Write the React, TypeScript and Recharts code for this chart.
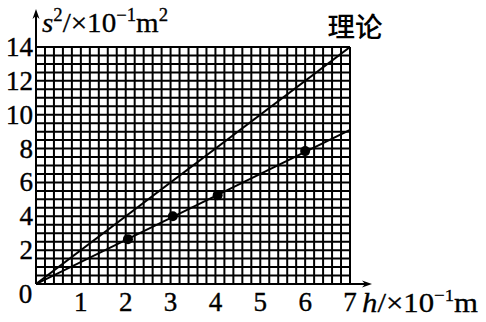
import React from "react";
import { ComposedChart, XAxis, YAxis, CartesianGrid, Line, Scatter, LabelList } from "recharts";

// Axis ranges / labels
const xTickLabels = [1, 2, 3, 4, 5, 6, 7];
const yTickLabels = [2, 4, 6, 8, 10, 12, 14];
// grid: 5 minor divisions per unit on x, 2 per unit on y
const xGrid = Array.from({ length: 36 }, (_, i) => i / 5);
const yGrid = Array.from({ length: 29 }, (_, i) => i / 2);

// Measured points (h, s^2)
const measuredH = [2.05, 3.05, 4.05, 6.0];
const measuredS2 = [2.65, 4.0, 5.25, 7.85];
// Fitted experimental line end points
const fitH = [0, 7];
const fitS2 = [0, 9.1];
// Theoretical line
const theoryH = [0, 7];
const theoryS2 = [0, 14];

const measured = measuredH.map((h, i) => ({ x: h, y: measuredS2[i] }));
const fit = fitH.map((h, i) => ({ x: h, y: fitS2[i] }));
const theory = theoryH.map((h, i) => ({ x: h, y: theoryS2[i] }));

const SERIF = "'Liberation Serif', 'Times New Roman', serif";
const FS = 27;

const XTick = (props: any) => {
  const { x, y, payload } = props;
  const v = payload.value;
  if (v === 0) {
    return (
      <text x={x - 10.5} y={y + 19} textAnchor="middle" fontFamily={SERIF} fontSize={FS} fill="#000" stroke="#000" strokeWidth={0.4}>0</text>
    );
  }
  if (!xTickLabels.includes(v)) return <g />;
  return (
    <text x={x} y={y + 27} textAnchor="middle" fontFamily={SERIF} fontSize={FS} fill="#000" stroke="#000" strokeWidth={0.4}>{v}</text>
  );
};

const YTick = (props: any) => {
  const { x, y, payload } = props;
  const v = payload.value;
  if (!yTickLabels.includes(v)) return <g />;
  return (
    <text x={x - 3} y={y + 9} textAnchor="end" fontFamily={SERIF} fontSize={FS} fill="#000" stroke="#000" strokeWidth={0.4}>{v}</text>
  );
};

const YTitle = (props: any) => {
  const vb = props.viewBox || {};
  const ax = vb.x + vb.width;
  const top = vb.y;
  return (
    <g>
      <line x1={ax} y1={top} x2={ax} y2={16} stroke="#000" strokeWidth={2} />
      <polygon points={`${ax},9 ${ax - 3.5},19 ${ax},16 ${ax + 3.5},19`} fill="#000" />
      <text x={ax + 6} y={32} fontFamily={SERIF} fontSize={28} fill="#000" stroke="#000" strokeWidth={0.3} textLength={126} lengthAdjust="spacingAndGlyphs">
        <tspan fontStyle="italic">s</tspan>
        <tspan dy={-11} fontSize={18}>2</tspan>
        <tspan dy={11}>/×10</tspan>
        <tspan dy={-11} fontSize={18}>−1</tspan>
        <tspan dy={11}>m</tspan>
        <tspan dy={-11} fontSize={18}>2</tspan>
      </text>
    </g>
  );
};

const XTitle = (props: any) => {
  const vb = props.viewBox || {};
  const right = vb.x + vb.width;
  const ay = vb.y;
  return (
    <g>
      <line x1={right} y1={ay} x2={365} y2={ay} stroke="#000" strokeWidth={2} />
      <polygon points={`372,${ay} 362,${ay - 3.5} 365,${ay} 362,${ay + 3.5}`} fill="#000" />
      <text x={362} y={312} fontFamily={SERIF} fontSize={28} fill="#000" stroke="#000" strokeWidth={0.3} textLength={116} lengthAdjust="spacingAndGlyphs">
        <tspan fontStyle="italic">h</tspan>
        <tspan>/×10</tspan>
        <tspan dy={-11} fontSize={17}>−1</tspan>
        <tspan dy={11}>m</tspan>
      </text>
    </g>
  );
};

const TheoryLabel = (props: any) => {
  const { x, y, index } = props;
  if (index !== 1) return null;
  return (
    <text x={x + 5} y={y - 10} textAnchor="middle" fontFamily="'Noto Sans CJK SC', sans-serif" fontSize={27} fontWeight={500} fill="#000" textLength={55} lengthAdjust="spacingAndGlyphs">理论</text>
  );
};

export default function App() {
  return (
    <div style={{ position: "absolute", left: 0, top: 0, background: "#fff" }}>
      <ComposedChart width={486} height={322} margin={{ top: 47, right: 136, bottom: 8, left: 0 }}>
        <CartesianGrid stroke="#000" strokeWidth={2} fill="none" />
        <XAxis
          type="number"
          dataKey="x"
          domain={[0, 7]}
          ticks={xGrid}
          interval={0}
          allowDataOverflow
          height={30}
          tickSize={0}
          tickMargin={0}
          tickLine={false}
          axisLine={{ stroke: "#000", strokeWidth: 2 }}
          tick={<XTick />}
          label={{ content: <XTitle /> }}
        />
        <YAxis
          type="number"
          dataKey="y"
          domain={[0, 14]}
          ticks={yGrid}
          interval={0}
          allowDataOverflow
          width={36}
          tickSize={0}
          tickMargin={0}
          tickLine={false}
          axisLine={{ stroke: "#000", strokeWidth: 2 }}
          tick={<YTick />}
          label={{ content: <YTitle /> }}
        />
        <Line data={theory} dataKey="y" type="linear" stroke="#000" strokeWidth={2} dot={false} isAnimationActive={false}>
          <LabelList dataKey="y" content={<TheoryLabel />} />
        </Line>
        <Line data={fit} dataKey="y" type="linear" stroke="#000" strokeWidth={2} dot={false} isAnimationActive={false} />
        <Scatter
          data={measured}
          dataKey="y"
          fill="#000"
          isAnimationActive={false}
          shape={(p: any) => <circle cx={p.cx} cy={p.cy} r={5} fill="#000" />}
        />
      </ComposedChart>
    </div>
  );
}
